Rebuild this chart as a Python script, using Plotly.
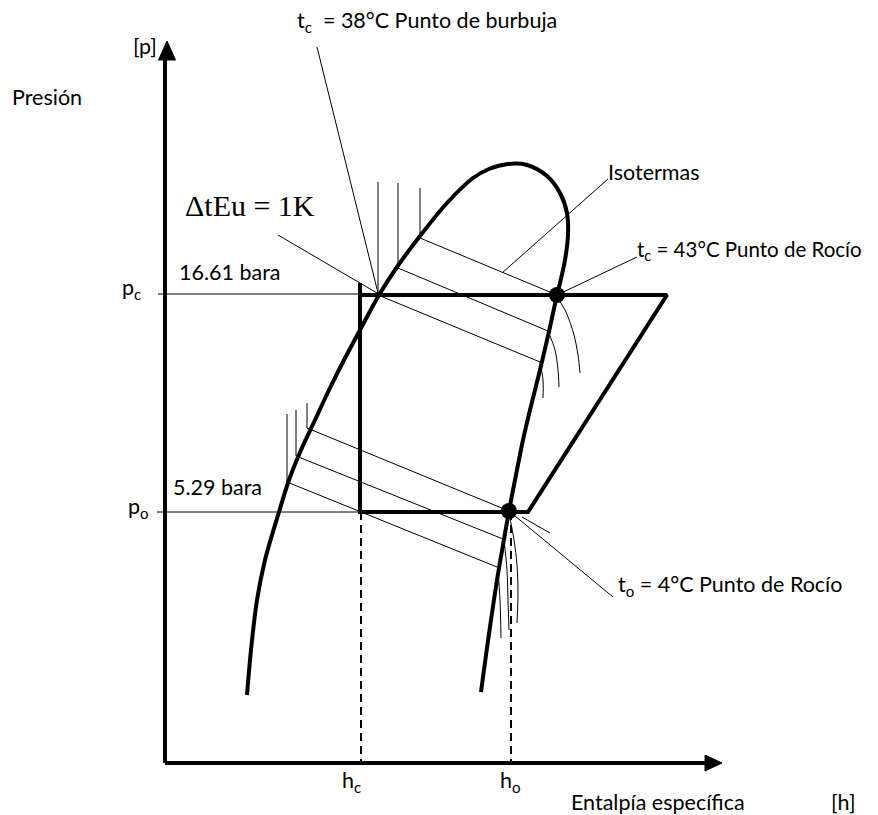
import plotly.graph_objects as go

# Schematic p-h diagram, coordinates in drawing units (h to the right, p on a reversed axis)
dome_h = [247, 251, 257, 265, 279, 289, 301, 315, 329, 344, 360, 379, 397, 420, 447, 473, 489, 508, 527, 547, 560, 567, 568, 565, 560, 557, 550, 540, 530, 523, 515, 509, 503, 497, 491, 486, 481]
dome_p = [695, 650, 600, 560, 512, 480, 450, 420, 390, 360, 330, 295, 267, 236, 203, 178, 169, 164, 165, 176, 193, 213, 235, 260, 283, 295, 327, 370, 410, 440, 480, 511, 545, 580, 620, 655, 692]

cycle_h = [360, 360, 528, 667, 360]
cycle_p = [283, 512, 512, 295, 295]

dew_h = [557, 509]
dew_p = [295, 511]

axis_v_h = [165, 165]
axis_v_p = [763, 58]
axis_h_h = [165, 707]
axis_h_p = [763, 763]
arrow_v_h = [158.5, 175.5, 167, 158.5]
arrow_v_p = [60, 60, 41, 60]
arrow_h_h = [705, 705, 722, 705]
arrow_h_p = [755, 771, 763, 755]

pc_ref_h = [158, 377]
pc_ref_p = [294, 294]
po_ref_h = [157, 360]
po_ref_p = [512, 512]
hc_drop_h = [361, 361]
hc_drop_p = [512, 763]
ho_drop_h = [511, 511]
ho_drop_p = [512, 763]

# isotherms (straight parts: liquid vertical + two-phase slant)
iso_straight = [
    ([420, 420, 557], [188, 238, 295]),
    ([398, 398, 548], [183, 268, 331]),
    ([378, 378, 540], [182, 295, 362]),
    ([307, 307, 509], [403, 428, 511]),
    ([296, 296, 503], [410, 456, 539]),
    ([287, 287, 497], [414, 482, 567]),
    ([522, 550], [517, 533]),
]
# isotherms (curved vapour parts)
iso_vapour = [
    ([557, 566, 574, 578, 580], [297, 312, 335, 355, 373]),
    ([548, 555, 558, 559], [331, 350, 370, 387]),
    ([540, 543, 543], [362, 380, 398]),
    ([509, 514, 517, 518, 517], [513, 540, 565, 593, 623]),
    ([504, 507, 508, 509], [540, 570, 600, 630]),
    ([498, 500, 501], [570, 600, 638]),
]

callouts = [
    ([317, 378], [47, 293]),
    ([278, 377], [235, 293]),
    ([608, 502], [179, 273]),
    ([637, 557], [257, 295]),
    ([509, 613], [511, 597]),
]

labels = [
    ("Presión", 10, 97, 21.5),
    ("[p]", 131, 46, 21.5),
    ("t<sub>c</sub>  = 38°C Punto de burbuja", 295, 21, 21.5),
    ("16.61 bara", 177, 272, 21.5),
    ("p<sub>c</sub>", 120, 288, 21.5),
    ("5.29 bara", 171, 487, 21.5),
    ("p<sub>o</sub>", 126, 507, 21.5),
    ("Isotermas", 606, 172, 21.5),
    ("t<sub>c</sub> = 43°C Punto de Rocío", 635, 250, 20.5),
    ("t<sub>o</sub> = 4°C Punto de Rocío", 616, 585, 21.5),
    ("h<sub>c</sub>", 340, 781, 21.5),
    ("h<sub>o</sub>", 498, 781, 21.5),
    ("Entalpía específica", 569, 802, 21.5),
    ("[h]", 829, 802, 21.5),
]
delta_label = ("ΔtEu = 1K", 183, 205)

fig = go.Figure()

def add_line(x, y, w=1, dash="solid", shape="linear"):
    fig.add_trace(go.Scatter(x=x, y=y, mode="lines", hoverinfo="skip",
                             line=dict(color="black", width=w, dash=dash, shape=shape,
                                       smoothing=0.9 if shape == "spline" else None)))

add_line(pc_ref_h, pc_ref_p, 1)
add_line(po_ref_h, po_ref_p, 1)
add_line(hc_drop_h, hc_drop_p, 2, dash="8px,5px")
add_line(ho_drop_h, ho_drop_p, 2, dash="8px,5px")
for xs, ys in iso_straight:
    add_line(xs, ys, 1)
for xs, ys in iso_vapour:
    add_line(xs, ys, 1, shape="spline")
for xs, ys in callouts:
    add_line(xs, ys, 1)
add_line(dome_h, dome_p, 4, shape="spline")
add_line(cycle_h, cycle_p, 4)
add_line(axis_v_h, axis_v_p, 4)
add_line(axis_h_h, axis_h_p, 4)
for xs, ys in [(arrow_v_h, arrow_v_p), (arrow_h_h, arrow_h_p)]:
    fig.add_trace(go.Scatter(x=xs, y=ys, mode="lines", fill="toself", fillcolor="black",
                             line=dict(color="black", width=1), hoverinfo="skip"))
fig.add_trace(go.Scatter(x=dew_h, y=dew_p, mode="markers", hoverinfo="skip",
                         marker=dict(color="black", size=16)))

for txt, x, y, sz in labels:
    fig.add_annotation(x=x, y=y, text=txt, showarrow=False, xanchor="left", yanchor="middle",
                       font=dict(family="Lato, Carlito, sans-serif", size=sz, color="black"))
fig.add_annotation(x=delta_label[1], y=delta_label[2], text=delta_label[0], showarrow=False,
                   xanchor="left", yanchor="middle",
                   font=dict(family="Liberation Serif, Times New Roman, serif", size=30, color="black"))

# the page body has an 8px margin: the figure is 8px smaller and its ranges start at 8
fig.update_layout(width=870, height=807, margin=dict(l=0, r=0, t=0, b=0),
                  paper_bgcolor="white", plot_bgcolor="white", showlegend=False,
                  xaxis=dict(range=[8, 878], visible=False),
                  yaxis=dict(range=[815, 8], visible=False))
fig.write_html("out.html")
